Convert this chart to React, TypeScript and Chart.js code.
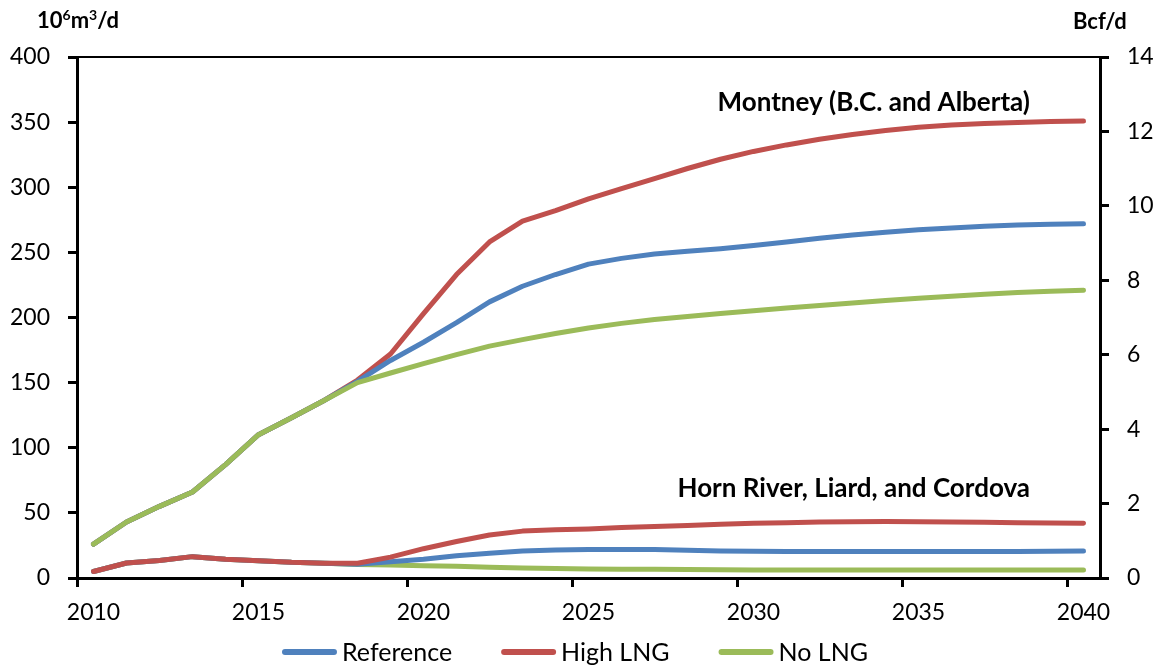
import React, { useEffect, useRef } from 'react';
import { Chart, registerables } from 'chart.js';

Chart.register(...registerables);

const years = [
  '2010', '2011', '2012', '2013', '2014', '2015', '2016', '2017', '2018', '2019',
  '2020', '2021', '2022', '2023', '2024', '2025', '2026', '2027', '2028', '2029',
  '2030', '2031', '2032', '2033', '2034', '2035', '2036', '2037', '2038', '2039', '2040',
];

// Montney (B.C. and Alberta), 10^6 m3/d
const montneyReference = [
  26, 43, 55, 66, 87, 110, 123, 136.5, 151, 167,
  181, 196, 212, 224, 233, 241, 245.4, 248.7, 250.8, 252.8,
  255.2, 258, 260.8, 263.4, 265.5, 267.3, 268.8, 270, 271, 271.6, 272,
];
const montneyHighLNG = [
  26, 43, 55, 66, 87, 110, 123, 136.5, 152, 172,
  203, 233, 258, 274, 282, 291, 299, 306.7, 314.4, 321.5,
  327.5, 332.5, 336.8, 340.5, 343.6, 346, 347.8, 349, 349.8, 350.4, 350.8,
];
const montneyNoLNG = [
  26, 43, 55, 66, 87, 110, 123, 136.5, 150, 157.4,
  164.6, 171.5, 178, 183, 187.7, 192, 195.5, 198.5, 200.8, 203,
  205.2, 207.3, 209.3, 211.2, 213, 214.8, 216.4, 217.9, 219.2, 220.2, 221,
];

// Horn River, Liard, and Cordova, 10^6 m3/d
const hornReference = [
  5, 11.5, 13.5, 16.4, 14.4, 13.3, 12, 11.3, 10.5, 12.5,
  14.4, 17, 19, 20.8, 21.5, 21.8, 21.8, 21.8, 21.3, 20.8,
  20.5, 20.4, 20.3, 20.3, 20.3, 20.3, 20.3, 20.3, 20.4, 20.6, 20.8,
];
const hornHighLNG = [
  5, 11.5, 13.5, 16.4, 14.4, 13.3, 12, 11.3, 11.3, 16,
  22.5, 28, 33, 36, 37, 37.7, 38.7, 39.5, 40.3, 41.3,
  42, 42.5, 43, 43.2, 43.3, 43.2, 43, 42.8, 42.5, 42.3, 42,
];
const hornNoLNG = [
  5, 11.5, 13.5, 16.4, 14.4, 13.3, 12, 11.3, 10.3, 10,
  9.5, 9, 8.2, 7.7, 7.2, 7, 6.8, 6.7, 6.6, 6.4,
  6.2, 6.2, 6.2, 6.2, 6.2, 6.2, 6.2, 6.2, 6.2, 6.2, 6.2,
];

const seriesNames = ['Reference', 'High LNG', 'No LNG'];
const seriesColors = ['#4F81BD', '#C0504D', '#9BBB59'];

const leftAxis = { min: 0, max: 400, step: 50 };
const rightAxis = { min: 0, max: 14, step: 2 };

const regionLabels = ['Montney (B.C. and Alberta)', 'Horn River, Liard, and Cordova'];
const leftUnit = { base: '10', sup1: '6', mid: 'm', sup2: '3', tail: '/d' };
const rightUnit = 'Bcf/d';

const FONT = 'Lato, "Open Sans", sans-serif';

const decorPlugin = {
  id: 'decor',
  afterDraw(chart: any) {
    const { ctx, chartArea } = chart;
    ctx.save();
    // top border of plot area
    ctx.strokeStyle = '#000';
    ctx.lineWidth = 2;
    ctx.beginPath();
    ctx.moveTo(chartArea.left, chartArea.top);
    ctx.lineTo(chartArea.right, chartArea.top);
    ctx.stroke();

    ctx.fillStyle = '#000';
    ctx.textBaseline = 'alphabetic';
    ctx.textAlign = 'left';

    // left unit label 10^6 m^3/d
    let x = 37;
    const by = 28;
    const big = `bold 22px ${FONT}`;
    const small = `bold 14px ${FONT}`;
    ctx.font = big;
    ctx.fillText(leftUnit.base, x, by);
    x += ctx.measureText(leftUnit.base).width;
    ctx.font = small;
    ctx.fillText(leftUnit.sup1, x, by - 8);
    x += ctx.measureText(leftUnit.sup1).width;
    ctx.font = big;
    ctx.fillText(leftUnit.mid, x, by);
    x += ctx.measureText(leftUnit.mid).width;
    ctx.font = small;
    ctx.fillText(leftUnit.sup2, x, by - 8);
    x += ctx.measureText(leftUnit.sup2).width;
    ctx.font = big;
    ctx.fillText(leftUnit.tail, x, by);

    // right unit label
    ctx.font = `bold 22px ${FONT}`;
    ctx.fillText(rightUnit, 1073, 29);

    // region labels
    ctx.font = `bold 26px ${FONT}`;
    ctx.textAlign = 'right';
    ctx.fillText(regionLabels[0], 1030, 111);
    ctx.fillText(regionLabels[1], 1030, 497);

    // legend
    ctx.font = `25px ${FONT}`;
    ctx.textAlign = 'left';
    ctx.textBaseline = 'middle';
    const lineLen = 55;
    const textGap = 5;
    const itemGap = 49;
    const widths = seriesNames.map((n) => lineLen + textGap + ctx.measureText(n).width);
    const total = widths.reduce((a, b) => a + b, 0) + itemGap * (seriesNames.length - 1);
    let lx = 575 - total / 2;
    const ly = 652;
    seriesNames.forEach((name, i) => {
      ctx.strokeStyle = seriesColors[i];
      ctx.lineWidth = 6;
      ctx.lineCap = 'round';
      ctx.beginPath();
      ctx.moveTo(lx + 3, ly);
      ctx.lineTo(lx + lineLen - 3, ly);
      ctx.stroke();
      ctx.fillStyle = '#000';
      ctx.fillText(name, lx + lineLen + textGap, ly + 1);
      lx += widths[i] + itemGap;
    });
    ctx.restore();
  },
};

function makeDataset(label: string, data: number[], color: string, order: number) {
  return {
    label,
    data,
    borderColor: color,
    backgroundColor: color,
    borderWidth: 5,
    pointRadius: 0,
    pointHoverRadius: 0,
    tension: 0,
    borderCapStyle: 'round' as const,
    borderJoinStyle: 'round' as const,
    fill: false,
    order,
    yAxisID: 'y',
  };
}

export default function App() {
  const canvasRef = useRef<HTMLCanvasElement | null>(null);

  useEffect(() => {
    const canvas = canvasRef.current;
    if (!canvas) return;
    const chart = new Chart(canvas, {
      type: 'line',
      data: {
        labels: years,
        datasets: [
          makeDataset(seriesNames[1], montneyHighLNG, seriesColors[1], 2),
          makeDataset(seriesNames[0], montneyReference, seriesColors[0], 1),
          makeDataset(seriesNames[2], montneyNoLNG, seriesColors[2], 0),
          makeDataset(seriesNames[2], hornNoLNG, seriesColors[2], 5),
          makeDataset(seriesNames[0], hornReference, seriesColors[0], 4),
          makeDataset(seriesNames[1], hornHighLNG, seriesColors[1], 3),
        ],
      },
      options: {
        responsive: false,
        animation: false,
        events: [],
        layout: { padding: { top: 57, left: 0, right: 0, bottom: 0 } },
        plugins: {
          legend: { display: false },
          tooltip: { enabled: false },
          title: { display: false },
        },
        scales: {
          x: {
            type: 'category',
            offset: true,
            grid: {
              offset: true,
              drawOnChartArea: false,
              drawTicks: true,
              tickLength: 9,
              lineWidth: 3,
              color: (c: any) => (typeof c.index === 'number' && c.index % 5 === 0 ? '#000' : 'rgba(0,0,0,0)'),
            },
            border: { display: true, color: '#000', width: 3 },
            ticks: {
              autoSkip: false,
              maxRotation: 0,
              minRotation: 0,
              padding: 12,
              color: '#000',
              font: { family: FONT, size: 23 },
              callback: (_v: any, i: number) => (i % 5 === 0 ? years[i] : ''),
            },
            afterFit: (s: any) => {
              s.height = 88;
            },
          },
          y: {
            position: 'left',
            min: leftAxis.min,
            max: leftAxis.max,
            grid: { drawOnChartArea: false, tickLength: 9, lineWidth: 3, color: '#000' },
            border: { display: true, color: '#000', width: 3 },
            ticks: {
              stepSize: leftAxis.step,
              padding: 18,
              color: '#000',
              font: { family: FONT, size: 23 },
            },
            afterFit: (s: any) => {
              s.width = 77;
            },
          },
          y2: {
            position: 'right',
            min: rightAxis.min,
            max: rightAxis.max,
            grid: { drawOnChartArea: false, tickLength: 9, lineWidth: 3, color: '#000' },
            border: { display: true, color: '#000', width: 3 },
            ticks: {
              stepSize: rightAxis.step,
              padding: 18,
              color: '#000',
              font: { family: FONT, size: 23 },
            },
            afterFit: (s: any) => {
              s.width = 59;
            },
          },
        },
      },
      plugins: [decorPlugin],
    });
    return () => chart.destroy();
  }, []);

  return (
    <div style={{ position: 'absolute', left: 0, top: 0, width: 1159, height: 666, background: '#fff' }}>
      <canvas ref={canvasRef} width={1159} height={666} style={{ width: 1159, height: 666, display: 'block' }} />
    </div>
  );
}
